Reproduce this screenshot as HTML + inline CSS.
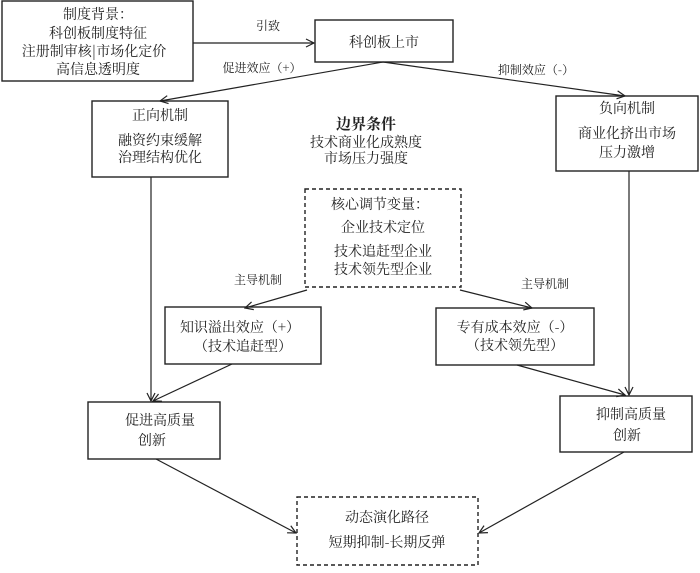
<!DOCTYPE html>
<html><head><meta charset="utf-8"><style>
html,body{margin:0;padding:0;background:#fff}
svg text{font-family:"Noto Serif CJK SC","Liberation Serif",serif;font-size:14px;fill:#222;text-anchor:middle}
svg text.s{font-size:12px}
</style></head><body>
<svg width="700" height="568" viewBox="0 0 700 568" xmlns="http://www.w3.org/2000/svg">
<defs><marker id="a" markerWidth="10" markerHeight="10" refX="9" refY="5" orient="auto" markerUnits="userSpaceOnUse"><path d="M1,1 L9,5 L1,9" fill="none" stroke="#222" stroke-width="1.2"/></marker></defs>
<g fill="none" stroke="#222" stroke-width="1.4">
<rect x="2" y="1" width="191" height="80"/>
<rect x="315" y="20" width="138" height="42"/>
<rect x="92" y="101" width="136" height="76"/>
<rect x="556" y="96" width="142" height="75"/>
<rect x="165" y="307" width="156" height="57"/>
<rect x="436" y="308" width="158" height="57"/>
<rect x="88" y="402" width="132" height="57"/>
<rect x="560" y="396" width="132" height="56"/>
<rect x="305" y="189" width="156" height="98" stroke-dasharray="4,3"/>
<rect x="297" y="497" width="181" height="68" stroke-dasharray="4,3"/>
</g>
<g stroke="#222" stroke-width="1.2" marker-end="url(#a)">
<line x1="193" y1="43" x2="314" y2="43"/>
<line x1="383" y1="62" x2="160" y2="101"/>
<line x1="383" y1="62" x2="625" y2="96"/>
<line x1="307" y1="290" x2="245" y2="308"/>
<line x1="460" y1="290" x2="532" y2="308"/>
<line x1="151" y1="177" x2="151" y2="401"/>
<line x1="629" y1="171" x2="629" y2="395"/>
<line x1="232" y1="364" x2="153" y2="401"/>
<line x1="517" y1="365" x2="625" y2="395"/>
<line x1="156" y1="459" x2="296" y2="533"/>
<line x1="624" y1="452" x2="479" y2="533"/>
</g>
<text x="98" y="19">制度背景：</text>
<text x="98" y="38">科创板制度特征</text>
<text x="94" y="56">注册制审核|市场化定价</text>
<text x="98" y="74">高信息透明度</text>
<text class="s" x="268" y="30">引致</text>
<text x="384" y="47">科创板上市</text>
<text class="s" x="262" y="72">促进效应（+）</text>
<text class="s" x="536" y="74">抑制效应（-）</text>
<text x="160" y="120">正向机制</text>
<text x="160" y="145">融资约束缓解</text>
<text x="160" y="162">治理结构优化</text>
<text x="366" y="129" style="font-weight:bold;font-size:15px">边界条件</text>
<text x="366" y="147">技术商业化成熟度</text>
<text x="366" y="163">市场压力强度</text>
<text x="627" y="113">负向机制</text>
<text x="627" y="138">商业化挤出市场</text>
<text x="627" y="157">压力激增</text>
<text x="380" y="209">核心调节变量：</text>
<text x="383" y="232">企业技术定位</text>
<text x="383" y="256">技术追赶型企业</text>
<text x="383" y="274">技术领先型企业</text>
<text class="s" x="258" y="284">主导机制</text>
<text class="s" x="545" y="288">主导机制</text>
<text x="240" y="332">知识溢出效应（+）</text>
<text x="243" y="351">（技术追赶型）</text>
<text x="515" y="332">专有成本效应（-）</text>
<text x="515" y="350">（技术领先型）</text>
<text x="160" y="425">促进高质量</text>
<text x="152" y="445">创新</text>
<text x="631" y="419">抑制高质量</text>
<text x="627" y="440">创新</text>
<text x="387" y="522">动态演化路径</text>
<text x="387" y="547">短期抑制-长期反弹</text>
</svg>
</body></html>
